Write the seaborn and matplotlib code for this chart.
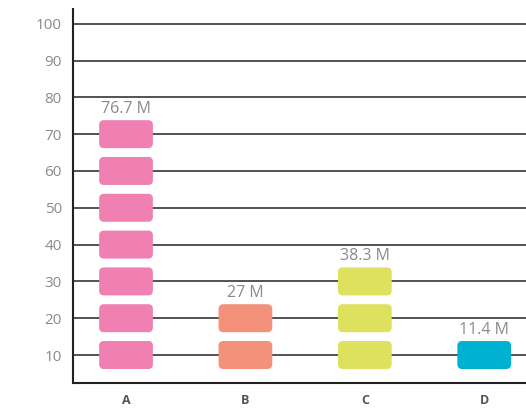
import pandas as pd
import matplotlib.pyplot as plt
import seaborn as sns
from matplotlib.patches import FancyBboxPatch

# chart data
categories = ['A', 'B', 'C', 'D']
values = [76.7, 27, 38.3, 11.4]
labels = ['76.7 M', '27 M', '38.3 M', '11.4 M']
colors = ['#F07FB2', '#F4917A', '#DDE15D', '#00B2CF']
unit = 10  # one block = 10

# one row per block
rows = []
for i, (cat, val) in enumerate(zip(categories, values)):
    for k in range(1, int(val // unit) + 1):
        rows.append({'cat': cat, 'pos': i, 'level': k * unit})
blocks = pd.DataFrame(rows)

sns.set_style('white')
plt.rcParams['font.family'] = ['Open Sans', 'DejaVu Sans']

fig = plt.figure(figsize=(5.26, 4.09), dpi=100)
ax = fig.add_axes([0.1388, 0.0636, 0.8612, 0.9144])

ax.set_xlim(-0.444, 3.35)
ax.set_ylim(2.4, 104)

# grid lines behind the blocks
for y in range(10, 101, 10):
    ax.axhline(y, color='#444444', lw=1.3, zorder=1)

bw, bh = 0.45, 7.6
aspect = (10 / 36.7) / (1 / 119.5)
for _, r in blocks.iterrows():
    c = colors[categories.index(r['cat'])]
    box = FancyBboxPatch((r['pos'] - bw / 2, r['level'] - bh / 2), bw, bh,
                         boxstyle='round,pad=0,rounding_size=0.04',
                         mutation_aspect=aspect, fc=c, ec='none', zorder=3)
    ax.add_patch(box)

# value labels above the top block
for i, (val, lab) in enumerate(zip(values, labels)):
    top = int(val // unit) * unit + bh / 2
    ax.text(i, top + 2.0, lab, ha='center', va='baseline', fontsize=11.5,
            color='#8a8a8a', zorder=4)

ax.set_xticks(range(len(categories)))
ax.set_xticklabels(categories, fontsize=9, fontweight='bold', color='#555555')
ax.set_yticks(range(10, 101, 10))
ax.set_yticklabels([str(v) for v in range(10, 101, 10)], fontsize=11,
                   color='#8a8a8a')
ax.tick_params(axis='both', length=0)
ax.tick_params(axis='y', pad=8)
ax.tick_params(axis='x', pad=8)

sns.despine(ax=ax, top=True, right=True)
for s in ['left', 'bottom']:
    ax.spines[s].set_color('#222222')
    ax.spines[s].set_linewidth(1.5)

fig.savefig('out.png', dpi=100)
